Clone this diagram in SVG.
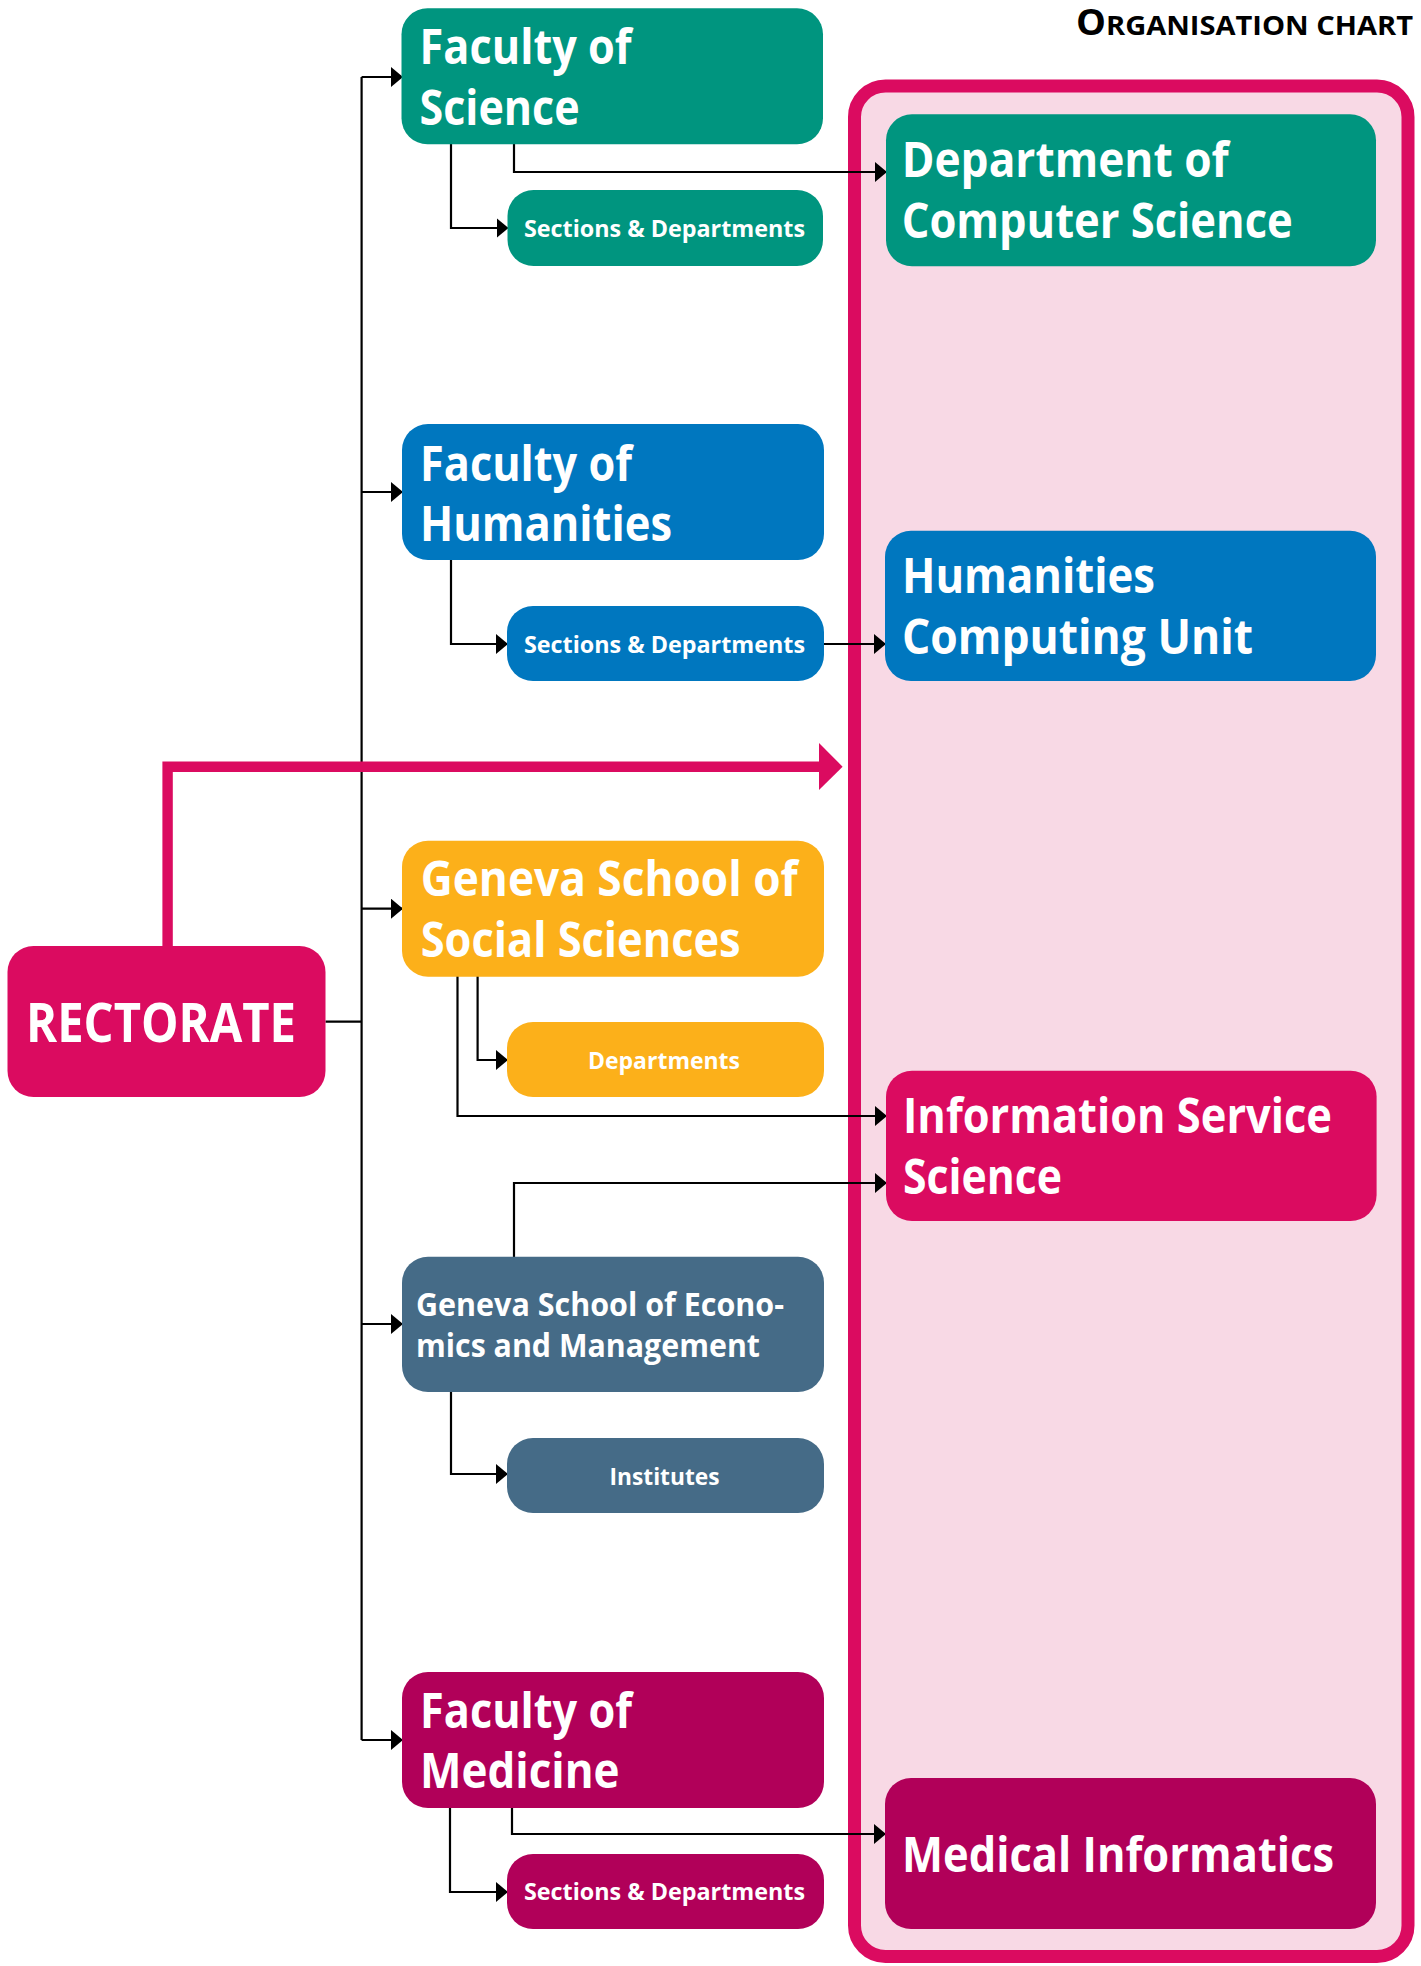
<svg xmlns="http://www.w3.org/2000/svg" width="1421" height="1966" viewBox="0 0 1421 1966">
<style>
.t{font-family:"Open Sans","Liberation Sans",sans-serif;font-weight:700;fill:#fff}
.big{font-size:48px}
.sm{font-size:24px}
.conn{fill:none;stroke:#000;stroke-width:2.2}
.teal{fill:#00957F}.blue{fill:#0077BF}.orange{fill:#FCB01A}.pink{fill:#DB0B60}.slate{fill:#456B87}.mag{fill:#B10059}
</style>
<defs>
<marker id="ah" viewBox="0 0 12 20" refX="11" refY="10" markerWidth="12" markerHeight="20" markerUnits="userSpaceOnUse" orient="auto">
<path d="M0,0 L12,10 L0,20 z" fill="#000"/>
</marker>
</defs>
<rect width="1421" height="1966" fill="#fff"/>
<text id="title" x="1076" y="34.7" textLength="337" lengthAdjust="spacingAndGlyphs" style="font-family:'Open Sans','Liberation Sans',sans-serif;font-weight:700;fill:#000"><tspan font-size="35">O</tspan><tspan font-size="27">RGANISATION CHART</tspan></text>
<g id="container">
<rect x="854.5" y="86" width="553.5" height="1870.5" rx="31" fill="#F8D9E5" stroke="#DB0B60" stroke-width="13"/>
</g>
<g id="connectors">
<path class="conn" d="M361.6,77 V1740"/>
<path class="conn" d="M325.5,1021.7 H361.6"/>
<path class="conn" marker-end="url(#ah)" d="M361.6,77 H402"/>
<path class="conn" marker-end="url(#ah)" d="M361.6,492 H402"/>
<path class="conn" marker-end="url(#ah)" d="M361.6,908.7 H402"/>
<path class="conn" marker-end="url(#ah)" d="M361.6,1324 H402"/>
<path class="conn" marker-end="url(#ah)" d="M361.6,1740 H402"/>
<path class="conn" marker-end="url(#ah)" d="M451,144 V228 H507.5"/>
<path class="conn" marker-end="url(#ah)" d="M514,144 V172 H886"/>
<path class="conn" marker-end="url(#ah)" d="M451,560 V644 H507"/>
<path class="conn" marker-end="url(#ah)" d="M824,644 H885"/>
<path class="conn" marker-end="url(#ah)" d="M477.6,976 V1060 H507"/>
<path class="conn" marker-end="url(#ah)" d="M457.5,976 V1116 H886"/>
<path class="conn" marker-end="url(#ah)" d="M514,1257 V1183 H886"/>
<path class="conn" marker-end="url(#ah)" d="M451,1392 V1474 H507"/>
<path class="conn" marker-end="url(#ah)" d="M450,1808 V1892 H507"/>
<path class="conn" marker-end="url(#ah)" d="M512,1808 V1834 H885"/>
<path d="M167.6,947 V766.7 H821" fill="none" stroke="#DB0B60" stroke-width="10.4"/>
<polygon points="819,743 842.6,766.7 819,790" fill="#DB0B60"/>
</g>
<g id="rectorate">
<rect class="pink" x="7.5" y="946" width="318" height="151" rx="26"/>
<text class="t" x="26" y="1042" font-size="54" textLength="270" lengthAdjust="spacingAndGlyphs">RECTORATE</text>
</g>
<g id="faculty-science">
<rect class="teal" x="401.5" y="8.3" width="421.5" height="136" rx="26"/>
<text class="t big" x="419.6" y="64.3" textLength="212" lengthAdjust="spacingAndGlyphs">Faculty of</text>
<text class="t big" x="419.6" y="125" textLength="160" lengthAdjust="spacingAndGlyphs">Science</text>
</g>
<g id="science-sections">
<rect class="teal" x="507.5" y="190" width="315.5" height="76" rx="26"/>
<text class="t sm" x="524" y="237.3" textLength="281" lengthAdjust="spacingAndGlyphs">Sections &amp; Departments</text>
</g>
<g id="dept-computer-science">
<rect class="teal" x="886" y="114.3" width="490" height="152" rx="26"/>
<text class="t big" x="901.7" y="176.7" textLength="327" lengthAdjust="spacingAndGlyphs">Department of</text>
<text class="t big" x="901.7" y="238.3" textLength="391" lengthAdjust="spacingAndGlyphs">Computer Science</text>
</g>
<g id="faculty-humanities">
<rect class="blue" x="402" y="424" width="422" height="136" rx="26"/>
<text class="t big" x="420" y="481" textLength="212" lengthAdjust="spacingAndGlyphs">Faculty of</text>
<text class="t big" x="420" y="541" textLength="252" lengthAdjust="spacingAndGlyphs">Humanities</text>
</g>
<g id="humanities-sections">
<rect class="blue" x="507" y="606" width="317" height="75" rx="26"/>
<text class="t sm" x="524" y="653" textLength="281" lengthAdjust="spacingAndGlyphs">Sections &amp; Departments</text>
</g>
<g id="humanities-computing-unit">
<rect class="blue" x="885" y="530.7" width="491" height="150.3" rx="26"/>
<text class="t big" x="902" y="593" textLength="253" lengthAdjust="spacingAndGlyphs">Humanities</text>
<text class="t big" x="902" y="654" textLength="351" lengthAdjust="spacingAndGlyphs">Computing Unit</text>
</g>
<g id="social-sciences">
<rect class="orange" x="402" y="840.7" width="422" height="136" rx="26"/>
<text class="t big" x="420.7" y="896" textLength="377" lengthAdjust="spacingAndGlyphs">Geneva School of</text>
<text class="t big" x="420.7" y="956.7" textLength="320" lengthAdjust="spacingAndGlyphs">Social Sciences</text>
</g>
<g id="social-departments">
<rect class="orange" x="507" y="1022" width="317" height="75" rx="26"/>
<text class="t sm" x="588" y="1069" textLength="152" lengthAdjust="spacingAndGlyphs">Departments</text>
</g>
<g id="information-service-science">
<rect class="pink" x="886" y="1070.7" width="490.6" height="150.3" rx="26"/>
<text class="t big" x="903" y="1133" textLength="429" lengthAdjust="spacingAndGlyphs">Information Service</text>
<text class="t big" x="903" y="1194" textLength="159" lengthAdjust="spacingAndGlyphs">Science</text>
</g>
<g id="economics-management">
<rect class="slate" x="402" y="1256.7" width="422" height="135.3" rx="26"/>
<text class="t" font-size="33" x="416" y="1315.7" textLength="368" lengthAdjust="spacingAndGlyphs">Geneva School of Econo-</text>
<text class="t" font-size="33" x="416" y="1356.7" textLength="344" lengthAdjust="spacingAndGlyphs">mics and Management</text>
</g>
<g id="institutes">
<rect class="slate" x="507" y="1438" width="317" height="75" rx="26"/>
<text class="t sm" x="609.5" y="1485" textLength="110" lengthAdjust="spacingAndGlyphs">Institutes</text>
</g>
<g id="faculty-medicine">
<rect class="mag" x="402" y="1672" width="422" height="136" rx="26"/>
<text class="t big" x="420" y="1728" textLength="212" lengthAdjust="spacingAndGlyphs">Faculty of</text>
<text class="t big" x="420" y="1788" textLength="199.5" lengthAdjust="spacingAndGlyphs">Medicine</text>
</g>
<g id="medicine-sections">
<rect class="mag" x="507" y="1854" width="317" height="75" rx="26"/>
<text class="t sm" x="524" y="1900" textLength="281" lengthAdjust="spacingAndGlyphs">Sections &amp; Departments</text>
</g>
<g id="medical-informatics">
<rect class="mag" x="885" y="1778" width="491" height="151" rx="26"/>
<text class="t big" x="902" y="1871.7" textLength="432" lengthAdjust="spacingAndGlyphs">Medical Informatics</text>
</g>
</svg>
